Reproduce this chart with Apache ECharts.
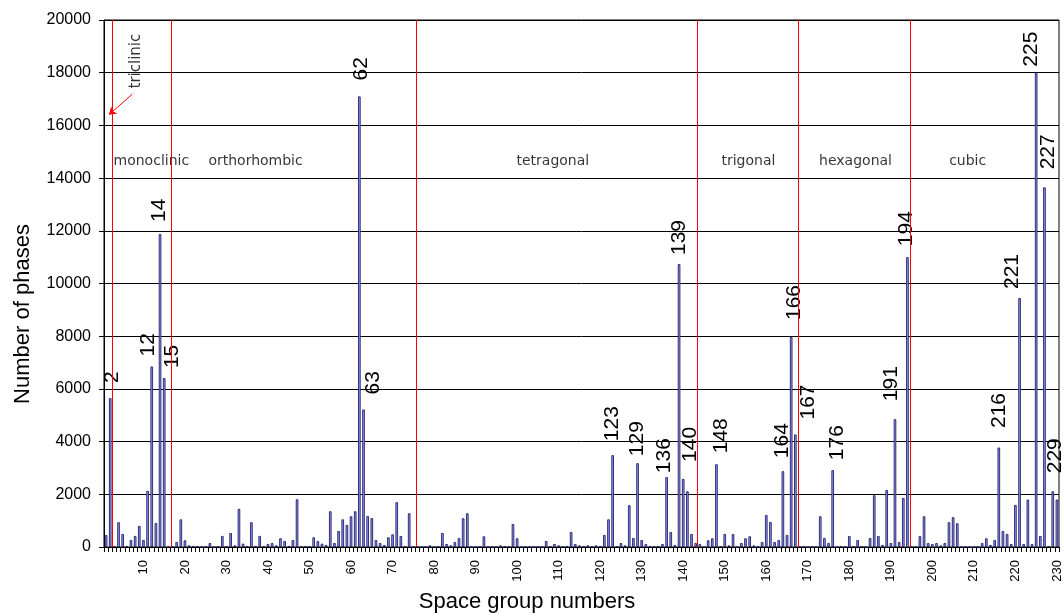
<!DOCTYPE html>
<html><head><meta charset="utf-8">
<script src="https://cdn.jsdelivr.net/npm/echarts@6/dist/echarts.min.js"></script>
<style>html,body{margin:0;padding:0;background:#fff}#c{width:1064px;height:614px}</style>
</head><body><div id="c"></div>
<script>
// Space group numbers 1..230
const categories = Array.from({length: 230}, (_, i) => String(i + 1));
// Number of phases per space group
const phases = [
  450, 5650, 25, 940, 495, 40, 266, 420, 800, 266,
  2130, 6850, 910, 11880, 6410, 0, 25, 190, 1050, 253,
  63, 40, 40, 0, 25, 150, 0, 30, 420, 40,
  530, 63, 1445, 127, 40, 940, 40, 420, 40, 114,
  150, 63, 330, 228, 40, 266, 1810, 25, 25, 25,
  367, 228, 127, 76, 1355, 150, 608, 1050, 836, 1165,
  1355, 17100, 5220, 1178, 1100, 266, 150, 76, 367, 481,
  1700, 418, 25, 1280, 0, 25, 0, 0, 63, 0,
  25, 530, 114, 63, 190, 342, 1090, 1280, 0, 0,
  25, 405, 0, 0, 0, 63, 25, 25, 875, 330,
  0, 25, 0, 0, 0, 0, 228, 25, 114, 63,
  25, 25, 570, 114, 63, 25, 63, 25, 63, 25,
  456, 1050, 3485, 25, 150, 63, 1585, 342, 3180, 266,
  114, 25, 25, 25, 114, 2650, 570, 76, 10740, 2585,
  2115, 495, 150, 114, 0, 253, 330, 3140, 25, 495,
  63, 495, 0, 150, 330, 405, 63, 25, 190, 1216,
  950, 190, 266, 2876, 456, 7970, 4270, 25, 25, 0,
  0, 0, 1165, 342, 150, 2915, 0, 25, 0, 418,
  25, 266, 25, 0, 342, 1965, 418, 76, 2165, 150,
  4850, 190, 1860, 11000, 25, 25, 418, 1165, 150, 114,
  150, 63, 150, 940, 1130, 900, 0, 25, 0, 0,
  0, 150, 330, 76, 266, 3775, 608, 495, 114, 1596,
  9450, 114, 1800, 114, 18000, 418, 13650, 25, 2115, 1800
];
// Space groups whose bar carries its number
const labeledGroups = [2, 12, 14, 15, 62, 63, 123, 129, 136, 139, 140, 148, 164, 166, 167, 176, 191, 194, 216, 221, 225, 227, 229];
// Crystal systems and where their name sits (space-group units / phases units)
const systemNames = ['monoclinic', 'orthorhombic', 'tetragonal', 'trigonal', 'hexagonal', 'cubic'];
const systemLabelX = [11.9, 37.0, 108.6, 155.7, 181.5, 208.5];
const systemLabelY = 14630;
// Red boundary lines between crystal systems (space-group units)
const systemBoundaries = [2.55, 16.76, 75.76, 143.44, 167.76, 194.74];
// "triclinic" note and its arrow
const tricNote = {text: 'triclinic', x: 8.13, y: 18440};
const tricArrow = [[7.34, 17190], [1.7, 16407]];
const yTickValues = {min: 0, max: 20000, step: 2000};

// label nudges [dx px, gap px above bar top] – layout only
const labelNudge = {
  2: [1.8, 15], 12: [-4, 10], 14: [-1, 12], 15: [8, 10], 62: [1.7, 16], 63: [9.6, 15],
  123: [0, 14], 129: [-0.5, 7], 136: [-2.6, 4], 139: [0, 9], 140: [7.4, 17], 148: [5, 11],
  164: [-1, 13], 166: [3, 17], 167: [13, 15], 176: [4, 10], 191: [-3.7, 18], 194: [-1.5, 11],
  216: [0, 19.5], 221: [-7, 9], 225: [-5.4, 6], 227: [3.3, 18], 229: [2, 18]
};
const BAR_W = 2.6;

const barData = phases.map((v, i) => {
  const g = i + 1;
  if (labeledGroups.indexOf(g) >= 0) {
    const n = labelNudge[g] || [0, 8];
    return {value: v, label: {show: true, position: [BAR_W / 2 + n[0], -n[1]]}};
  }
  return v;
});

const RED = '#ff0000';
const chart = echarts.init(document.getElementById('c'), null, {renderer: 'canvas'});
chart.setOption({
  animation: false,
  backgroundColor: '#fff',
  grid: {left: 104, right: 5, top: 20, bottom: 67, show: true, borderColor: '#000', borderWidth: 1, backgroundColor: '#fff'},
  xAxis: [{
    type: 'category',
    data: categories,
    boundaryGap: true,
    axisLine: {show: true, lineStyle: {color: '#000', width: 1}},
    axisTick: {show: true, interval: 0, length: 5, lineStyle: {color: '#000'}},
    axisLabel: {
      interval: (idx, val) => Number(val) % 10 === 0,
      rotate: 90, margin: 13,
      fontFamily: 'Liberation Sans', fontSize: 13, color: '#000'
    },
    splitLine: {show: false}
  }, {
    type: 'value', min: 0.5, max: 230.5, show: false, gridIndex: 0
  }],
  yAxis: {
    type: 'value',
    min: yTickValues.min, max: yTickValues.max, interval: yTickValues.step,
    axisLine: {show: true, lineStyle: {color: '#000', width: 1}},
    axisTick: {show: true, length: 5, lineStyle: {color: '#000'}},
    axisLabel: {fontFamily: 'Liberation Sans', fontSize: 16, color: '#000', margin: 13,
      formatter: v => String(v)},
    splitLine: {show: true, lineStyle: {color: '#000', width: 1}}
  },
  graphic: [
    {type: 'text', x: 23, y: 314, rotation: Math.PI / 2,
     style: {text: 'Number of phases', font: '22px "Liberation Sans"', fill: '#000', align: 'center', verticalAlign: 'middle'}},
    {type: 'text', x: 527, y: 602,
     style: {text: 'Space group numbers', font: '22px "Liberation Sans"', fill: '#000', align: 'center', verticalAlign: 'middle'}}
  ],
  series: [{
    type: 'bar',
    xAxisIndex: 0, yAxisIndex: 0,
    data: barData,
    barWidth: BAR_W,
    itemStyle: {color: '#9999ff', borderColor: '#202066', borderWidth: 0.9},
    label: {
      show: false, rotate: 90, align: 'left', verticalAlign: 'middle',
      formatter: p => p.name, fontFamily: 'Liberation Sans', fontSize: 21, color: '#000'
    },
    silent: true,
    z: 3
  }, {
    type: 'scatter',
    xAxisIndex: 1, yAxisIndex: 0,
    symbolSize: 1,
    itemStyle: {color: 'rgba(0,0,0,0)'},
    data: systemNames.map((n, i) => ({name: n, value: [systemLabelX[i], systemLabelY]}))
      .concat([{name: tricNote.text, value: [tricNote.x, tricNote.y],
        label: {rotate: 90, fontSize: 15}}]),
    label: {show: true, position: 'inside', formatter: p => p.name,
      fontFamily: 'DejaVu Sans', fontSize: 14, color: '#000'},
    markLine: {
      silent: true, symbol: 'none',
      label: {show: false},
      lineStyle: {color: RED, width: 1, type: 'solid', opacity: 1},
      data: systemBoundaries.map(b => ({xAxis: b, lineStyle: {color: RED, width: 1, type: 'solid'}})).concat([
        [{coord: tricArrow[0], symbol: 'none', lineStyle: {color: RED, width: 1}},
         {coord: tricArrow[1], symbol: 'arrow', symbolSize: 7}]
      ])
    },
    z: 4
  }]
});
</script></body></html>
